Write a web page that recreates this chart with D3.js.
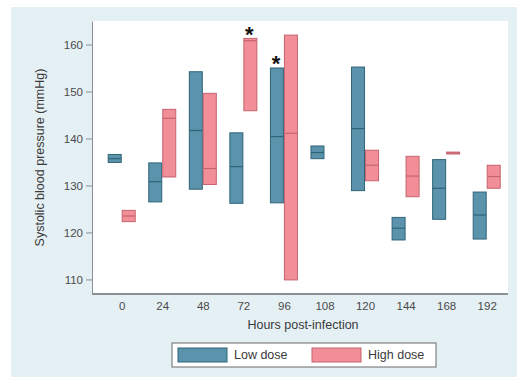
<!DOCTYPE html>
<html>
<head>
<meta charset="utf-8">
<script src="https://cdn.jsdelivr.net/npm/d3@7"></script>
<style>
  body { margin: 0; background: #fff; }
  text { font-family: "Liberation Sans", Arial, sans-serif; }
</style>
</head>
<body>
<div id="chart"></div>
<script>
// categories (hours post-infection)
var hours = ["0", "24", "48", "72", "96", "108", "120", "144", "168", "192"];

// low dose: lower quartile, median, upper quartile
var lowQ1  = [134.9, 126.5, 129.2, 126.2, 126.3, 135.7, 128.9, 118.4, 122.8, 118.6];
var lowMed = [135.7, 130.8, 141.7, 134.0, 140.4, 137.0, 142.1, 120.9, 129.4, 123.7];
var lowQ3  = [136.6, 134.8, 154.2, 141.2, 155.0, 138.4, 155.2, 123.2, 135.5, 128.6];

// high dose (no box at 108 h)
var highQ1  = [122.3, 131.8, 130.2, 145.9, 109.9, null, 131.0, 127.6, 136.7, 129.4];
var highMed = [123.5, 144.3, 133.6, 160.8, 141.1, null, 134.3, 132.0, 136.9, 131.9];
var highQ3  = [124.7, 146.2, 149.6, 161.3, 162.0, null, 137.5, 136.2, 137.1, 134.3];

var yTicks = [110, 120, 130, 140, 150, 160];
var starred = [{hour: "72", group: "high"}, {hour: "96", group: "low"}];

var W = 521, H = 380;
var plot = {left: 92, right: 508, top: 21, bottom: 294};

var svg = d3.select("#chart").append("svg")
    .attr("width", W)
    .attr("height", H);

// outer graph region
svg.append("rect")
    .attr("x", 11).attr("y", 7)
    .attr("width", 506).attr("height", 370)
    .attr("fill", "#e5f0f5");

// plot region
svg.append("rect")
    .attr("x", plot.left).attr("y", plot.top)
    .attr("width", plot.right - plot.left)
    .attr("height", plot.bottom - plot.top)
    .attr("fill", "#fff");

var x = d3.scalePoint()
    .domain(hours)
    .range([121.7, 486.7]);

var y = d3.scaleLinear()
    .domain([106.9, 165])
    .range([plot.bottom, plot.top]);

// Y axis
var yAxis = svg.append("g")
    .attr("transform", "translate(" + plot.left + ",0)")
    .call(d3.axisLeft(y).tickValues(yTicks).tickSize(6).tickSizeOuter(0).tickPadding(3));
yAxis.select(".domain").attr("stroke", "#8a8f93");
yAxis.selectAll(".tick line").attr("stroke", "#8a8f93");
yAxis.selectAll(".tick text")
    .attr("fill", "#4a4a4a")
    .style("font-size", "11.5px");

// X axis
var xAxis = svg.append("g")
    .attr("transform", "translate(0," + plot.bottom + ")")
    .call(d3.axisBottom(x).tickSize(0).tickPadding(8));
xAxis.select(".domain").remove();
xAxis.selectAll(".tick text")
    .attr("fill", "#4a4a4a")
    .style("font-size", "11.5px");
svg.append("line")
    .attr("x1", plot.left).attr("x2", plot.right)
    .attr("y1", plot.bottom).attr("y2", plot.bottom)
    .attr("stroke", "#8a8f93")
    .attr("stroke-width", 2);

// axis titles
svg.append("text")
    .attr("transform", "translate(40," + ((plot.top + plot.bottom) / 2) + ") rotate(-90)")
    .attr("text-anchor", "middle")
    .attr("dy", "0.35em")
    .attr("fill", "#3a3a3a")
    .style("font-size", "12.5px")
    .text("Systolic blood pressure (mmHg)");

svg.append("text")
    .attr("x", (plot.left + plot.right) / 2 + 3)
    .attr("y", 329)
    .attr("text-anchor", "middle")
    .attr("fill", "#3a3a3a")
    .style("font-size", "12.5px")
    .text("Hours post-infection");

// boxes
var series = [
    {key: "low", q1: lowQ1, med: lowMed, q3: lowQ3, fill: "#5b93ad", stroke: "#2f6477", off: -13.5},
    {key: "high", q1: highQ1, med: highMed, q3: highQ3, fill: "#f28e98", stroke: "#c4646e", off: 0.5}
];
var boxW = 13;

series.forEach(function (s) {
    var rows = hours.map(function (h, i) {
        return {hour: h, q1: s.q1[i], med: s.med[i], q3: s.q3[i]};
    }).filter(function (d) { return d.q1 != null; });

    var g = svg.append("g").attr("class", "box-" + s.key);
    g.selectAll("rect")
        .data(rows)
        .enter().append("rect")
        .attr("x", function (d) { return x(d.hour) + s.off; })
        .attr("y", function (d) { return y(d.q3); })
        .attr("width", boxW)
        .attr("height", function (d) { return Math.max(1.5, y(d.q1) - y(d.q3)); })
        .attr("fill", s.fill)
        .attr("stroke", s.stroke)
        .attr("stroke-width", 1);
    g.selectAll("line")
        .data(rows)
        .enter().append("line")
        .attr("x1", function (d) { return x(d.hour) + s.off; })
        .attr("x2", function (d) { return x(d.hour) + s.off + boxW; })
        .attr("y1", function (d) { return y(d.med); })
        .attr("y2", function (d) { return y(d.med); })
        .attr("stroke", s.stroke)
        .attr("stroke-width", 1.2);
});

// significance stars
svg.selectAll(".star")
    .data(starred)
    .enter().append("text")
    .attr("class", "star")
    .attr("x", function (d) {
        var s = d.group === "low" ? series[0] : series[1];
        return x(d.hour) + s.off + boxW / 2 - 1;
    })
    .attr("y", function (d) {
        var s = d.group === "low" ? series[0] : series[1];
        var i = hours.indexOf(d.hour);
        return y(s.q3[i]) - 9 + 12.5;
    })
    .attr("text-anchor", "middle")
    .attr("fill", "#111")
    .style("font-size", "22px")
    .style("font-weight", "bold")
    .text("*");

// legend
var legend = svg.append("g");
legend.append("rect")
    .attr("x", 172).attr("y", 343)
    .attr("width", 264).attr("height", 24)
    .attr("fill", "#fff")
    .attr("stroke", "#6b6b6b");

var legItems = [
    {label: "Low dose", s: series[0], x: 178},
    {label: "High dose", s: series[1], x: 312}
];
legItems.forEach(function (d) {
    legend.append("rect")
        .attr("x", d.x).attr("y", 348)
        .attr("width", 49).attr("height", 14)
        .attr("fill", d.s.fill)
        .attr("stroke", d.s.stroke);
    legend.append("text")
        .attr("x", d.x + 56).attr("y", 355)
        .attr("dy", "0.35em")
        .attr("fill", "#3a3a3a")
        .style("font-size", "12.5px")
        .text(d.label);
});
</script>
</body>
</html>
